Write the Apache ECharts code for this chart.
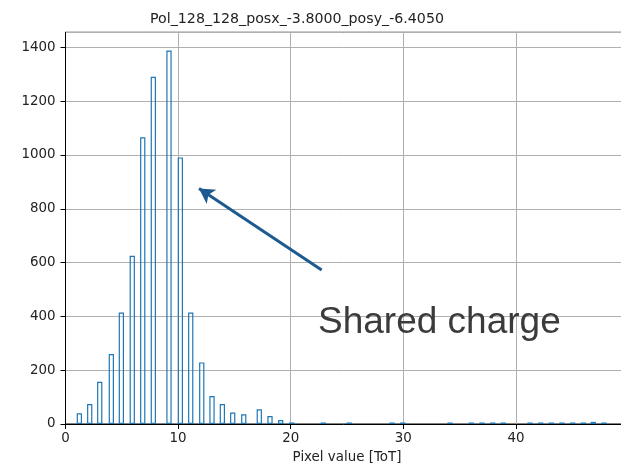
<!DOCTYPE html>
<html>
<head>
<meta charset="utf-8">
<script src="https://cdn.jsdelivr.net/npm/echarts@6/dist/echarts.min.js"></script>
<style>html,body{margin:0;padding:0;background:#fff;}#c{width:621px;height:469px;}</style>
</head>
<body>
<div id="c"></div>
<script>
const titleText = 'Pol_128_128_posx_-3.8000_posy_-6.4050';
const xAxisLabel = 'Pixel value [ToT]';
const annotationText = 'Shared charge';
const binCenters = [1.23, 2.15, 3.04, 4.07, 4.96, 5.93, 6.86, 7.80, 9.19, 10.2, 11.12, 12.1, 13.01, 13.93, 14.85, 15.83, 17.21, 18.16, 19.11, 20.09, 22.9, 25.2, 29.0, 29.95, 34.15, 36.04, 36.99, 37.94, 38.88, 41.25, 42.2, 43.15, 44.09, 45.04, 45.99, 46.87, 47.82];
const counts = [40, 74, 157, 260, 414, 625, 1066, 1291, 1388, 991, 414, 229, 104, 74, 43, 36, 55, 30, 15, 5, 3, 3, 3, 3, 3, 3, 3, 3, 3, 3, 3, 3, 3, 3, 3, 8, 3];
const arrowFrom = [22.75, 572];
const arrowTo = [11.86, 875];

const chart = echarts.init(document.getElementById('c'), null, {renderer: 'canvas'});
const font = 'DejaVu Sans';
const textColor = '#222';
const gridColor = '#b0b0b0';

chart.setOption({
  animation: false,
  backgroundColor: '#fff',
  title: {
    text: titleText,
    left: 292,
    top: 7,
    textAlign: 'center',
    textStyle: {fontFamily: font, fontSize: 14.2, fontWeight: 'normal', color: textColor}
  },
  grid: {
    left: 65.5, right: -7.5, top: 32.3, bottom: 45,
    containLabel: false,
    outerBoundsMode: 'none',
    show: true, borderColor: '#000', borderWidth: 1, backgroundColor: 'transparent'
  },
  xAxis: {
    type: 'value', min: 0, max: 50, interval: 10,
    name: xAxisLabel, nameLocation: 'middle', nameGap: 27,
    nameTextStyle: {fontFamily: font, fontSize: 13.4, color: textColor},
    axisLine: {show: true, lineStyle: {color: '#000', width: 1}},
    axisTick: {show: true, inside: false, length: 5, lineStyle: {color: '#000'}},
    axisLabel: {fontFamily: font, fontSize: 13.4, color: textColor, margin: 8, formatter: v => String(v), hideOverlap: false, showMaxLabel: true},
    splitLine: {show: true, lineStyle: {color: gridColor, width: 1}}
  },
  yAxis: {
    type: 'value', min: 0, max: 1456, interval: 200,
    axisLine: {show: true, lineStyle: {color: '#000', width: 1}},
    axisTick: {show: true, inside: false, length: 5, lineStyle: {color: '#000'}},
    axisLabel: {fontFamily: font, fontSize: 13.4, color: textColor, margin: 10, showMaxLabel: false, formatter: v => String(v)},
    splitLine: {show: true, lineStyle: {color: gridColor, width: 1}}
  },
  series: [{
    type: 'bar',
    data: binCenters.map((x, i) => [x, counts[i]]),
    barWidth: 5.3,
    barMinHeight: 1.5,
    itemStyle: {color: 'rgba(255,255,255,0)', borderColor: '#1f77b4', borderWidth: 1.2},
    emphasis: {disabled: true},
    silent: true,
    z: 10,
    markLine: {
      silent: true,
      symbol: ['none', 'arrow'],
      symbolSize: [13, 15],
      label: {show: false},
      lineStyle: {color: '#1c5a8f', width: 3, type: 'solid'},
      emphasis: {disabled: true},
      data: [[{coord: arrowFrom}, {coord: arrowTo}]]
    }
  }],
  graphic: [{
    type: 'text',
    left: 318,
    top: 304,
    z: 100,
    style: {
      text: annotationText,
      fontFamily: 'Liberation Sans',
      fontSize: 37,
      fill: '#3b3b3b'
    }
  }]
});
</script>
</body>
</html>
